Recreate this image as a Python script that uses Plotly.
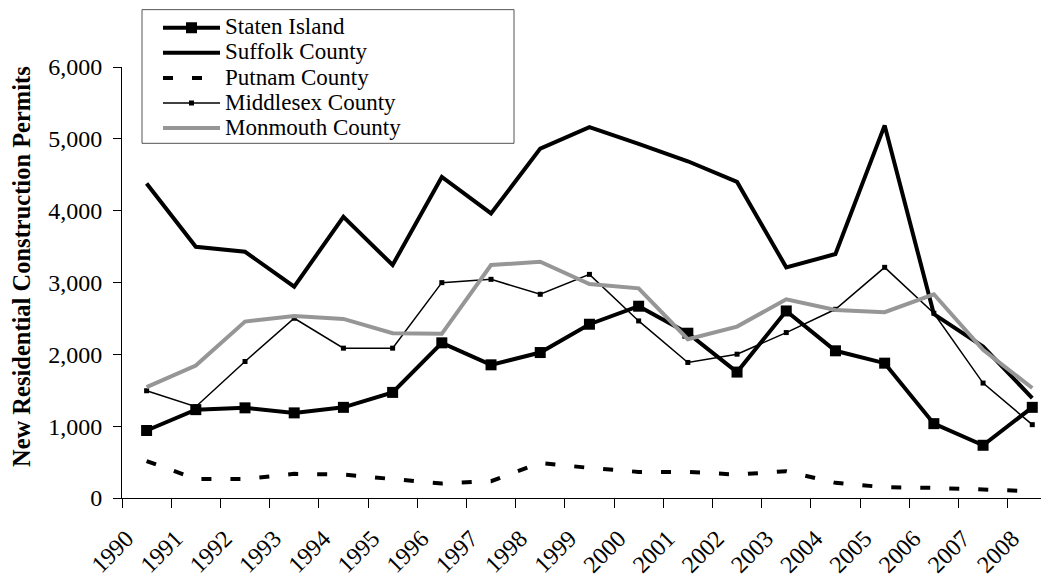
import plotly.graph_objects as go

years = ["1990", "1991", "1992", "1993", "1994", "1995", "1996", "1997", "1998", "1999",
         "2000", "2001", "2002", "2003", "2004", "2005", "2006", "2007", "2008"]

staten_island = [940, 1230, 1255, 1185, 1262, 1470, 2160, 1854, 2025, 2419,
                 2670, 2294, 1753, 2604, 2049, 1877, 1035, 734, 1262]
suffolk = [4378, 3498, 3428, 2942, 3914, 3243, 4470, 3961, 4864, 5164,
           4930, 4688, 4400, 3211, 3396, 5187, 2560, 2108, 1392]
putnam = [515, 265, 266, 336, 326, 266, 201, 234, 488, 419,
          363, 363, 326, 373, 211, 150, 141, 118, 95]
middlesex = [1493, 1270, 1900, 2502, 2086, 2086, 2998, 3044, 2836, 3113,
             2465, 1887, 2002, 2303, 2627, 3211, 2572, 1600, 1021]
monmouth = [1544, 1845, 2456, 2535, 2493, 2294, 2285, 3243, 3289, 2979,
            2919, 2211, 2386, 2767, 2618, 2586, 2836, 2063, 1531]

y_title = "New Residential Construction Permits"

FONT = "Liberation Serif, Times New Roman, serif"


def lab(name):
    return '<span style="font-size:23px">' + name + "</span>"


fig = go.Figure()
fig.add_trace(go.Scatter(x=years, y=staten_island, name=lab("Staten Island"), mode="lines+markers",
                         line=dict(color="black", width=4),
                         marker=dict(symbol="square", size=11, color="black")))
fig.add_trace(go.Scatter(x=years, y=suffolk, name=lab("Suffolk County"), mode="lines",
                         line=dict(color="black", width=4)))
fig.add_trace(go.Scatter(x=years, y=putnam, name=lab("Putnam County"), mode="lines",
                         line=dict(color="black", width=4, dash="10px,19px")))
fig.add_trace(go.Scatter(x=years, y=middlesex, name=lab("Middlesex County"), mode="lines+markers",
                         line=dict(color="black", width=1.5),
                         marker=dict(symbol="square", size=5, color="black")))
fig.add_trace(go.Scatter(x=years, y=monmouth, name=lab("Monmouth County"), mode="lines",
                         line=dict(color="#969696", width=4)))

# the page shows the figure offset by the default 8px body margin
OFF = 8
W, H = 1049 - OFF, 577 - OFF
ML, MR, MT, MB = 122 - OFF, 0, 66.5 - OFF, 78.5
PW, PH = W - ML - MR, H - MT - MB


def px_x(p):
    return (p - OFF - ML) / PW


def px_y(p):
    return (H - MB - (p - OFF)) / PH


fig.update_layout(
    width=W, height=H,
    margin=dict(l=ML, r=MR, t=MT, b=MB, pad=0, autoexpand=False),
    paper_bgcolor="white", plot_bgcolor="white",
    font=dict(family=FONT, size=24, color="black"),
    showlegend=True,
    legend=dict(x=px_x(158), y=px_y(9.5), xanchor="left", yanchor="top",
                font=dict(family=FONT, size=17, color="black"),
                bgcolor="rgba(0,0,0,0)", borderwidth=0, itemwidth=57,
                traceorder="normal"),
    shapes=[dict(type="rect", xref="paper", yref="paper",
                 x0=px_x(142), x1=px_x(514), y0=px_y(143), y1=px_y(9),
                 line=dict(color="#555555", width=1), fillcolor="rgba(0,0,0,0)", layer="above")],
    annotations=[dict(text="<b>" + y_title + "</b>", xref="paper", yref="paper",
                      x=px_x(21), y=px_y(267), xanchor="center", yanchor="middle",
                      textangle=-90, showarrow=False,
                      font=dict(family=FONT, size=24.5, color="black"))],
)

fig.update_xaxes(type="category", range=[-0.5, 18.34], tickangle=-45, automargin=False,
                 showline=True, linecolor="black", linewidth=1,
                 ticks="outside", tickson="boundaries", ticklen=9, tickcolor="black",
                 ticklabelstandoff=16, ticklabelshift=-20,
                 showgrid=False, zeroline=False,
                 tickfont=dict(family=FONT, size=24, color="black"))
fig.update_yaxes(range=[0, 6000], tickvals=[0, 1000, 2000, 3000, 4000, 5000, 6000],
                 tickformat=",d", showline=True, linecolor="black", linewidth=1, automargin=False,
                 ticks="outside", ticklen=8, tickcolor="black", ticklabelstandoff=6,
                 showgrid=False, zeroline=False,
                 tickfont=dict(family=FONT, size=24, color="black"))

fig.write_html("out.html")
